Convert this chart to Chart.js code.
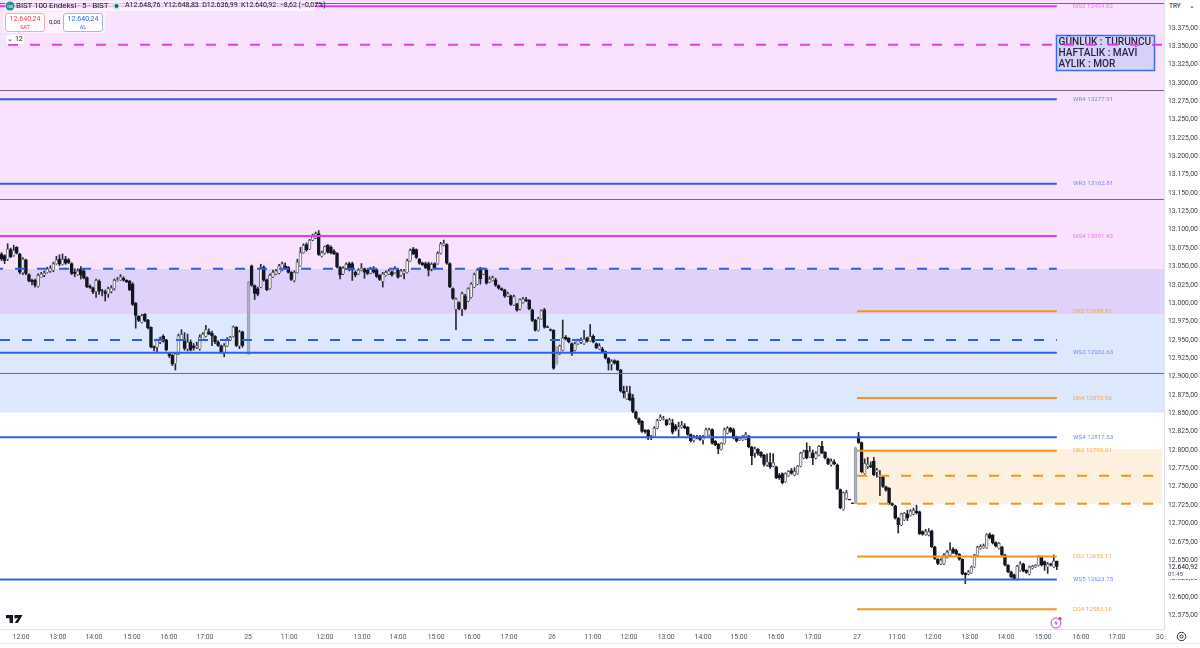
<!DOCTYPE html>
<html>
<head>
<meta charset="utf-8">
<title>BIST 100</title>
<script src="https://cdn.jsdelivr.net/npm/chart.js@4"></script>
<style>
  html, body { margin: 0; padding: 0; background: #fff; overflow: hidden; }
  #wrap { position: relative; width: 1200px; height: 648px; font-family: Roboto, sans-serif; color: #131722; }
  canvas { position: absolute; left: 0; top: 0; }
  .abs { position: absolute; white-space: nowrap; }
  .btn { top: 13px; height: 16px; background: #fff; border-radius: 3px; text-align: center; font-size: 7px; line-height: 8px; padding-top: 1px; }
</style>
</head>
<body>
<div id="wrap">
  <canvas id="chart" width="1200" height="648"></canvas>

  <div class="abs" style="left:5px;top:1px;width:310px;height:10px;background:rgba(255,255,255,.65)"></div>
  <svg class="abs" style="left:5px;top:1px" width="10" height="10"><circle cx="5" cy="5" r="4.5" fill="#2a8a9e"/><text x="5" y="6.5" font-size="4" fill="#fff" text-anchor="middle">100</text></svg>
  <div class="abs" style="left:16px;top:0;font-size:8px;line-height:11px;letter-spacing:-.1px">BIST 100 Endeksi · 5 · BIST</div>
  <svg class="abs" style="left:112px;top:1px" width="9" height="10"><circle cx="4.5" cy="5" r="4" fill="#d5e8e4"/><circle cx="4.5" cy="5" r="2" fill="#0b6b5a"/></svg>
  <div class="abs" style="left:125px;top:0;font-size:7px;line-height:11px">A12.648,76 &nbsp;Y12.648,83 &nbsp;D12.636,99 &nbsp;K12.640,92 &nbsp;−8,62 (−0,07%)</div>

  <div class="abs" style="left:3px;top:12px;width:102px;height:21px;background:rgba(255,255,255,.5)"></div>
  <div class="abs btn" style="left:5px;width:38px;border:1px solid #f7a9ae;color:#f23645">12.640,24<br><span style="font-size:5.5px">SAT</span></div>
  <div class="abs" style="left:49px;top:18px;font-size:6px">0,00</div>
  <div class="abs btn" style="left:63px;width:38px;border:1px solid #9ab8f7;color:#2962ff">12.640,24<br><span style="font-size:5.5px">AL</span></div>
  <div class="abs" style="left:6px;top:35px;width:18px;height:9px;background:#fff;font-size:7px;line-height:9px;text-align:center">⌄ 12</div>

  <div class="abs" style="left:1167px;top:0;width:30px;height:12px;background:#fff;border-radius:2px;font-size:6.5px;line-height:12px;padding-left:2px;box-sizing:border-box">TRY<span style="float:right;padding-right:2px">⌄</span></div>

  <svg class="abs" style="left:6px;top:615px" width="17" height="9"><path d="M0 0h7v8h-3.5v-4.8h-3.5z M8.5 0h8l-4.6 8h-3.2l3.2-5h-3.4z M8.2 2a1.4 1.4 0 1 1 0 .01z" fill="#131722"/></svg>
  <svg class="abs" style="left:1050px;top:616px" width="13" height="13"><circle cx="6" cy="7" r="5" fill="#fff" stroke="#b04ac8" stroke-width="1"/><path d="M6.6 3.8L4.4 7.4h1.8l-.8 2.6 2.4-3.6H6z" fill="#b04ac8"/><circle cx="10" cy="2.5" r="1.5" fill="#f23645"/></svg>
  <svg class="abs" style="left:1176px;top:631px" width="11" height="11"><circle cx="5.5" cy="5.5" r="4.2" fill="none" stroke="#333" stroke-width="1"/><circle cx="5.5" cy="5.5" r="1.6" fill="none" stroke="#333" stroke-width="1"/></svg>
</div>

<script>
const opens = [
13067,13065,13060,13073,13065,13076,13067,13042,13059,13039,
13031,13031,13023,13035,13039,13042,13044,13045,13054,13060,
13053,13060,13059,13054,13042,13039,13047,13044,13035,13023,
13021,13016,13030,13017,13016,13013,13016,13020,13031,13032,
13034,13031,13030,13026,13000,12982,12974,12985,12977,12967,
12941,12940,12947,12955,12950,12931,12929,12918,12931,12951,
12951,12938,12947,12942,12940,12938,12951,12955,12961,12959,
12955,12947,12942,12932,12942,12950,12955,12967,12942,12961,
12950,12930,13051,13024,13020,13022,13049,13032,13020,13036,
13040,13041,13045,13051,13049,13042,13031,13042,13051,13069,
13080,13074,13086,13089,13095,13064,13068,13079,13076,13071,
13068,13049,13040,13047,13054,13054,13042,13040,13045,13047,
13045,13041,13048,13045,13038,13030,13038,13040,13042,13042,
13045,13038,13041,13042,13058,13074,13073,13060,13055,13054,
13054,13047,13054,13054,13068,13079,13080,13054,13020,12992,
13001,12992,13010,13003,13008,13022,13026,13047,13040,13045,
13029,13031,13032,13024,13020,13018,13010,13010,12998,12999,
12992,13001,13005,13004,12991,12977,12963,12979,12991,12968,
12964,12963,12918,12931,12936,12954,12952,12945,12936,12945,
12947,12945,12953,12949,12955,12945,12938,12938,12934,12925,
12917,12922,12921,12909,12880,12870,12877,12871,12852,12843,
12839,12827,12827,12816,12818,12830,12841,12842,12841,12836,
12837,12833,12828,12831,12833,12831,12821,12813,12818,12819,
12814,12818,12821,12828,12812,12808,12801,12809,12823,12830,
12828,12818,12814,12814,12815,12819,12804,12796,12801,12797,
12793,12780,12783,12778,12777,12766,12768,12757,12765,12772,
12766,12768,12778,12789,12800,12791,12796,12789,12793,12805,
12797,12788,12780,12784,12780,12746,12719,12734,12733,12728,
12727,12819,12810,12768,12778,12779,12785,12770,12764,12763,
12750,12748,12727,12724,12707,12698,12705,12713,12711,12713,
12717,12716,12689,12685,12684,12690,12668,12651,12645,12645,
12654,12657,12665,12663,12658,12651,12632,12631,12633,12641,
12657,12666,12667,12667,12685,12684,12674,12666,12668,12657,
12643,12634,12630,12624,12636,12645,12636,12631,12639,12641,
12643,12655,12648,12641,12645,12641,12648.76];

const closes = [
13060,13058,13074,13063,13072,13068,13042,13060,13040,13030,
13029,13024,13038,13040,13041,13047,13048,13054,13059,13053,
13060,13054,13055,13040,13040,13044,13038,13034,13022,13021,
13015,13031,13016,13016,13013,13020,13021,13031,13032,13036,
13031,13029,13018,12998,12983,12976,12983,12976,12966,12940,
12939,12950,12951,12948,12936,12929,12917,12931,12956,12958,
12938,12947,12936,12939,12942,12954,12958,12964,12958,12955,
12947,12942,12933,12942,12951,12954,12968,12942,12961,12942,
12949,13029,13024,13013,13012,13049,13031,13018,13038,13042,
13044,13051,13054,13047,13042,13032,13042,13056,13069,13079,
13072,13086,13092,13095,13066,13069,13077,13069,13068,13067,
13049,13038,13048,13053,13045,13045,13038,13045,13048,13042,
13040,13047,13042,13036,13032,13040,13042,13044,13038,13048,
13035,13044,13044,13058,13072,13067,13062,13054,13052,13048,
13045,13053,13048,13068,13081,13082,13054,13022,13006,13006,
12992,13013,12992,13020,13026,13039,13045,13033,13047,13027,
13033,13035,13024,13020,13018,13009,13013,12998,13009,12990,
13005,13006,13003,12992,12976,12963,12979,12990,12967,12967,
12963,12911,12940,12942,12953,12951,12947,12933,12945,12949,
12950,12951,12948,12955,12947,12939,12942,12934,12925,12918,
12921,12918,12909,12880,12877,12880,12868,12852,12843,12837,
12825,12825,12818,12818,12830,12840,12845,12843,12834,12841,
12824,12828,12832,12834,12830,12821,12812,12818,12816,12814,
12818,12828,12828,12809,12807,12801,12809,12828,12830,12825,
12816,12812,12816,12818,12821,12804,12792,12802,12795,12792,
12780,12784,12777,12783,12762,12762,12755,12768,12771,12768,
12771,12778,12796,12798,12789,12798,12789,12796,12805,12796,
12789,12781,12785,12781,12747,12721,12742,12742,12732,12727,
12803,12810,12770,12782,12781,12777,12766,12773,12763,12750,
12745,12727,12725,12707,12698,12713,12714,12707,12717,12718,
12714,12686,12685,12689,12689,12668,12652,12645,12650,12657,
12661,12664,12660,12658,12651,12631,12630,12634,12641,12657,
12668,12669,12670,12685,12680,12673,12669,12673,12657,12643,
12634,12627,12624,12642,12645,12635,12633,12641,12642,12643,
12655,12643,12643,12645,12643,12649,12640.92];

const highs = [
13069,13066,13081,13075,13079,13077,13068,13062,13060,13040,
13033,13033,13040,13042,13044,13049,13051,13056,13064,13066,
13067,13064,13061,13055,13047,13047,13050,13047,13036,13025,
13022,13033,13032,13019,13018,13022,13024,13033,13035,13039,
13036,13032,13031,13028,13001,12983,12985,12986,12978,12968,
12942,12951,12954,12957,12951,12932,12930,12932,12958,12964,
12960,12958,12950,12945,12947,12957,12960,12970,12965,12962,
12956,12949,12943,12945,12953,12955,12969,12968,12963,12962,
12951,13030,13052,13025,13022,13053,13051,13033,13040,13045,
13046,13053,13056,13055,13050,13043,13044,13060,13076,13081,
13082,13087,13094,13097,13099,13071,13078,13080,13078,13073,
13069,13050,13050,13055,13056,13056,13044,13047,13054,13048,
13047,13049,13050,13047,13039,13042,13044,13046,13044,13050,
13047,13046,13046,13060,13074,13076,13074,13061,13056,13056,
13056,13055,13055,13070,13083,13086,13081,13055,13021,13007,
13002,13015,13012,13021,13028,13041,13047,13049,13048,13047,
13036,13037,13034,13025,13021,13019,13015,13011,13011,13000,
13006,13008,13008,13005,12992,12978,12981,12991,12993,12969,
12965,12964,12941,12943,12977,12956,12953,12946,12947,12951,
12953,12963,12954,12971,12957,12946,12945,12940,12935,12926,
12923,12923,12922,12910,12887,12887,12887,12876,12853,12844,
12840,12828,12828,12820,12832,12842,12848,12846,12842,12843,
12842,12835,12838,12839,12836,12832,12822,12820,12820,12820,
12820,12830,12830,12829,12813,12809,12810,12830,12832,12831,
12830,12819,12818,12820,12824,12820,12805,12804,12802,12798,
12794,12795,12796,12795,12778,12768,12769,12769,12772,12775,
12776,12779,12797,12800,12810,12805,12800,12798,12806,12812,
12798,12789,12788,12787,12781,12747,12743,12745,12733,12728,
12804,12824,12811,12788,12790,12784,12790,12775,12772,12765,
12751,12749,12728,12725,12708,12714,12715,12718,12719,12721,
12725,12717,12690,12692,12693,12691,12669,12652,12652,12659,
12663,12674,12667,12665,12659,12652,12633,12636,12642,12658,
12669,12671,12672,12686,12687,12685,12675,12674,12669,12658,
12644,12635,12631,12643,12648,12646,12637,12642,12643,12644,
12656,12656,12649,12647,12646,12657,12648.83];

const lows = [
13058,13054,13058,13062,13064,13067,13040,13039,13039,13029,
13025,13022,13022,13035,13036,13041,13042,13043,13053,13051,
13052,13053,13054,13039,13036,13038,13033,13033,13021,13020,
13013,13008,13012,13010,13003,13008,13014,13018,13030,13031,
13030,13028,13017,12997,12966,12975,12973,12975,12965,12939,
12935,12933,12945,12947,12935,12926,12915,12909,12930,12950,
12936,12935,12935,12936,12938,12936,12950,12954,12957,12942,
12945,12941,12932,12927,12941,12949,12954,12941,12938,12940,
12949,12930,13023,13005,13010,13021,13030,13017,13019,13035,
13039,13040,13044,13046,13041,13031,13029,13041,13050,13068,
13071,13073,13085,13088,13065,13063,13067,13068,13067,13066,
13048,13033,13039,13046,13044,13031,13036,13039,13044,13034,
13039,13040,13041,13035,13031,13022,13037,13039,13037,13041,
13034,13037,13033,13041,13057,13066,13061,13053,13051,13047,
13037,13044,13046,13053,13067,13078,13053,13021,13005,12964,
12991,12983,12991,13002,13007,13021,13025,13026,13039,13026,
13028,13030,13023,13019,13017,13008,13009,12997,12997,12989,
12991,13000,13002,12991,12975,12962,12962,12978,12966,12967,
12962,12910,12916,12930,12935,12950,12946,12929,12935,12944,
12945,12944,12947,12948,12946,12938,12937,12933,12924,12909,
12909,12917,12908,12879,12871,12869,12867,12851,12842,12835,
12824,12823,12814,12814,12817,12829,12840,12841,12833,12835,
12822,12826,12817,12830,12829,12820,12811,12811,12815,12813,
12808,12817,12820,12808,12806,12795,12800,12808,12822,12824,
12815,12811,12813,12813,12814,12803,12780,12790,12793,12790,
12778,12778,12775,12777,12761,12760,12754,12756,12764,12767,
12765,12767,12777,12788,12788,12790,12780,12788,12792,12795,
12788,12780,12778,12780,12746,12720,12718,12733,12732,12727,
12727,12809,12769,12767,12775,12776,12765,12763,12738,12749,
12744,12726,12724,12706,12687,12697,12704,12704,12710,12712,
12713,12685,12684,12684,12683,12667,12651,12644,12644,12644,
12653,12656,12659,12657,12650,12630,12618,12630,12632,12640,
12656,12665,12666,12666,12679,12672,12668,12665,12656,12642,
12633,12626,12623,12623,12635,12634,12632,12630,12638,12640,
12642,12642,12636,12632,12642,12640,12636.99];

// pivot levels, first letter: M = monthly, W = weekly, D = daily
const levelNames = ["MS3","WR4","WR3","MS4","DR5","WS3","DR4","WS4","DR3","DS3","WS5","DS4"];
const levelPrices = [13404.62,13277.91,13162.81,13091.43,12988.91,12932.63,12870.96,12817.53,12799.01,12655.11,12623.75,12583.16];
const monthlyDashed = [13352];
const weeklyDashed = [13047,12950];
const dailyDashed = [12765,12727];
const grayLines = [13408.2,13289.7,13141.3,12904.3];

const timeSpots = [6.4,18.5,30.3,42.8,54.9,66.7,80.8,94.3,106,118.2,130,142.5,154.3,166.4,180.5,193.9,205.7,217.9,230,241.8,253.9,266,280.5,293.6,305.4,317.5,329.3,341.5,353.9,365.7,379.8];
const timeNames = ["12:00","13:00","14:00","15:00","16:00","17:00","25","11:00","12:00","13:00","14:00","15:00","16:00","17:00","26","11:00","12:00","13:00","14:00","15:00","16:00","17:00","27","11:00","12:00","13:00","14:00","15:00","16:00","17:00","30"];
const priceTicks = [13375,13350,13325,13300,13275,13250,13225,13200,13175,13150,13125,13100,13075,13050,13025,13000,12975,12950,12925,12900,12875,12850,12825,12800,12775,12750,12725,12700,12675,12650,12625,12600,12575];

const bandTops = [13413,13047,12985];
const bandBottoms = [13047,12985,12851];
const bandColors = ["#f9e2fd","#e0d1fa","#dde7fd"];
const dayBandTop = 12801;
const dayBandBottom = 12727;
const noteLines = ["GÜNLÜK : TURUNCU", "HAFTALIK : MAVİ", "AYLIK : MOR"];

const xMin = -0.5, xMax = 381.14, yMin = 12556.25, yMax = 13413;
const endBar = 346, dayStart = 280.5, rightEnd = 380.5;
const grayCandles = [81, 182, 280];

function fmt(v) {
    const s = v.toFixed(2).split(".");
    return s[0].replace(/\B(?=(\d{3})+$)/g, ".") + "," + s[1];
}

function level(from, to, price, color, width, dash, dashOffset) {
    return {
        type: "line", order: 0, borderColor: color, borderWidth: width, borderDash: dash || [],
        borderDashOffset: dashOffset || 0,
        pointRadius: 0, data: [{ x: from, y: price }, { x: to, y: price }]
    };
}

function band(from, to, top, bottom, color) {
    return {
        type: "line", order: 5, borderWidth: 0, pointRadius: 0, backgroundColor: color,
        fill: { value: bottom }, data: [{ x: from, y: top }, { x: to, y: top }]
    };
}

const levelColor = { M: "#e23cf2", W: "#2f5fe6", D: "#f7941d" };
const labelColor = { M: "#e77cf5", W: "#6f8ff0", D: "#f5a94a" };

const datasets = [];
bandTops.forEach((t, i) => datasets.push(band(xMin, xMax, t, bandBottoms[i], bandColors[i])));
datasets.push(band(dayStart, rightEnd, dayBandTop, dayBandBottom, "#fdf0de"));

grayLines.forEach(p => datasets.push(level(xMin, xMax, p, "#6f6c78", 1)));
weeklyDashed.forEach((p, i) => datasets.push(level(xMin, endBar, p, levelColor.W, 2, [10, 12], i === 0 ? 7 : 0)));
dailyDashed.forEach(p => datasets.push(level(dayStart, rightEnd, p, levelColor.D, 2, [10, 12])));
levelNames.forEach((n, i) => {
    const from = n[0] === "D" ? dayStart : xMin;
    datasets.push(level(from, endBar, levelPrices[i], levelColor[n[0]], 2));
});

const isGray = i => grayCandles.includes(i);
datasets.push({
    type: "bar", order: 2, grouped: false, barThickness: 1,
    backgroundColor: opens.map((o, i) => isGray(i) ? "#9a9fae" : "#2a2a35"),
    data: opens.map((o, i) => ({ x: i, y: [lows[i], highs[i]] }))
});
datasets.push({
    type: "bar", order: 1, grouped: false, barThickness: 3, borderWidth: 1,
    backgroundColor: opens.map((o, i) => isGray(i) ? "#aab0bf" : (closes[i] >= o ? "#f4f4f6" : "#131722")),
    borderColor: opens.map((o, i) => isGray(i) ? "#9a9fae" : (closes[i] >= o ? "#6a6a74" : "#131722")),
    data: opens.map((o, i) => ({ x: i, y: [o, closes[i]] }))
});

// magenta dash is drawn last, it runs over the note box like in the original
const topDash = datasets.length;
monthlyDashed.forEach(p => {
    const d = level(xMin, xMax, p, levelColor.M, 2, [10, 12], 14);
    d.order = -1;
    datasets.push(d);
});

// level captions, note box and the last price tag on the axis
const overlay = {
    id: "overlay",
    beforeDatasetDraw(chart, args) {
        if (args.index !== topDash) return;
        const ctx = chart.ctx;
        ctx.save();
        ctx.fillStyle = "#d6d1f9";
        ctx.fillRect(1056.5, 35.5, 98, 35);
        ctx.strokeStyle = "#3f6ef0";
        ctx.lineWidth = 1.5;
        ctx.strokeRect(1056.5, 35.5, 98, 35);
        ctx.fillStyle = "#2c2344";
        ctx.font = "500 10.1px Roboto";
        ctx.textBaseline = "middle";
        noteLines.forEach((t, i) => ctx.fillText(t, 1058.5, 42 + i * 11.2));
        ctx.restore();
    },
    afterDraw(chart) {
        const ctx = chart.ctx, y = chart.scales.y;
        ctx.save();
        ctx.textBaseline = "middle";
        ctx.font = "6.2px Roboto";
        levelNames.forEach((n, i) => {
            ctx.fillStyle = labelColor[n[0]];
            ctx.fillText(n + " " + levelPrices[i].toFixed(2), 1073, y.getPixelForValue(levelPrices[i]));
        });
        const py = y.getPixelForValue(closes[closes.length - 1]);
        ctx.fillStyle = "#fff";
        ctx.fillRect(1165, py - 4, 35, 16);
        ctx.font = "6.8px Roboto";
        ctx.fillStyle = "#131722";
        ctx.fillText(fmt(closes[closes.length - 1]), 1168, py);
        ctx.font = "6px Roboto";
        ctx.fillStyle = "#50535e";
        ctx.fillText("01:45", 1168, py + 8);
        ctx.strokeStyle = "#eceef2";
        ctx.beginPath();
        ctx.moveTo(0, 643.5);
        ctx.lineTo(1200, 643.5);
        ctx.stroke();
        ctx.restore();
    }
};

const noPadding = s => { s.paddingLeft = s.paddingRight = s.paddingTop = s.paddingBottom = 0; };

new Chart(document.getElementById("chart"), {
    data: { datasets },
    plugins: [overlay],
    options: {
        responsive: false,
        animation: false,
        layout: { padding: 0 },
        plugins: { legend: { display: false }, tooltip: { enabled: false } },
        scales: {
            x: {
                type: "linear", min: xMin, max: xMax, offset: false,
                grid: { display: false, drawTicks: false },
                border: { display: true, color: "#e0e3eb" },
                afterBuildTicks: s => { s.ticks = timeSpots.map(v => ({ value: v })); },
                afterFit: s => { s.height = 19; noPadding(s); },
                ticks: {
                    autoSkip: false, maxRotation: 0, padding: 4, font: { family: "Roboto", size: 6.8 }, color: "#50535e",
                    callback: v => timeNames[timeSpots.indexOf(v)]
                }
            },
            y: {
                position: "right", min: yMin, max: yMax,
                grid: { display: false, drawTicks: false },
                border: { display: true, color: "#e0e3eb" },
                afterBuildTicks: s => { s.ticks = priceTicks.map(v => ({ value: v })); },
                afterFit: s => { s.width = 36; noPadding(s); },
                ticks: {
                    autoSkip: false, padding: 4, font: { family: "Roboto", size: 6.8 }, color: "#3a3d48",
                    callback: v => fmt(v)
                }
            }
        }
    }
});
</script>
</body>
</html>
